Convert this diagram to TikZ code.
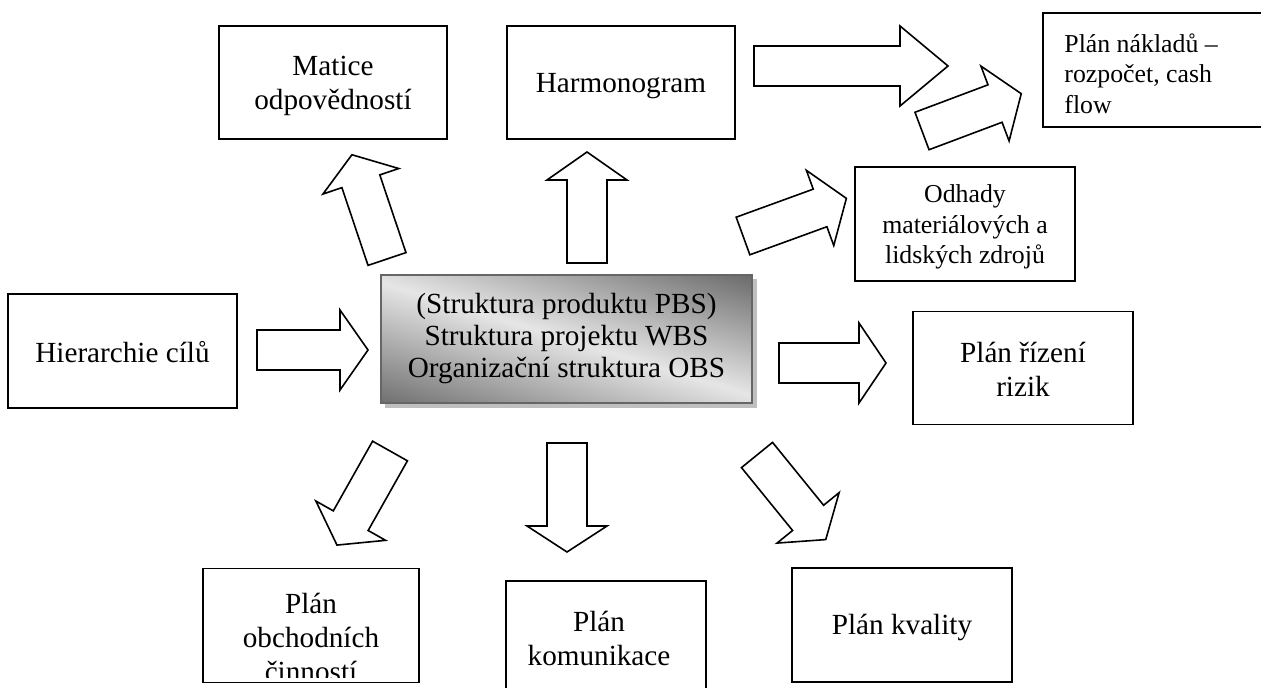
\documentclass[tikz,border=0pt]{standalone}
\usepackage{fontspec}
\setmainfont{Liberation Serif}
\newcommand\mainsize{\fontsize{14.6}{17}\selectfont}
\newcommand\smallsize{\fontsize{12.9}{15.3}\selectfont}
\tikzset{
  x=0.5pt, y=-0.5pt,
  box/.style={draw=black, line width=0.9pt, fill=white, inner sep=0pt},
  label text/.style={inner sep=0pt, align=center, font=\mainsize},
  blockarrow/.style={draw=black, line width=0.8pt, fill=white, line join=miter},
  hubshadow/.style={fill=black!25, draw=none},
  hubshade/.style={top color=black!60, bottom color=black!58, middle color=black!10},
  hub/.style={draw=black!60, line width=0.8pt, inner sep=0pt, align=center,
    font=\fontsize{14.6}{16}\selectfont},
}
% hollow block arrow: tail centre, direction in degrees, total length, head length
\newcommand\bigarrow[4]{%
  \begin{scope}[shift={#1}, rotate=#2]
    \draw[blockarrow] (0,-20) -- ({#3-#4},-20) -- ({#3-#4},-40) -- (#3,0)
      -- ({#3-#4},40) -- ({#3-#4},20) -- (0,20) -- cycle;
  \end{scope}}
\begin{document}
\begin{tikzpicture}
\useasboundingbox (0,0) rectangle (1261,688);
\clip (0,0) rectangle (1261,688);

% central structure box: drop shadow, diagonal grey gradient, frame and text
\fill[hubshadow] (385,279) rectangle (757,408);
\begin{scope}
  \clip (381,275) rectangle (752,403);
  \shade[hubshade, transform canvas={rotate around={-17:(566.5,339)}}]
    (296.5,219) rectangle (836.5,459);
\end{scope}
\node[hub, minimum width=185.5pt, minimum height=64pt] (wbs) at (566.5,339)
  {(Struktura produktu PBS)\\Struktura projektu WBS\\Organizační struktura OBS};

% surrounding plans
\node[box, minimum width=114pt, minimum height=56.5pt] (matice) at (333,82.5) {};
\node[label text] (maticetext) at (333,86) {Matice\\odpovědností};

\node[box, minimum width=114pt, minimum height=56.5pt] (harmonogram) at (621,82.5) {};
\node[label text] (harmonogramtext) at (621,86.5) {Harmonogram};

\node[box, minimum width=124pt, minimum height=57pt] (naklady) at (1167,70) {};
\node[label text, align=left, anchor=north west, font=\smallsize] (nakladytext) at (1064,33)
  {Plán nákladů –\\rozpočet, cash\\flow};

\node[box, minimum width=110pt, minimum height=57pt] (odhady) at (965,224) {};
\node[label text, font=\smallsize] (odhadytext) at (965,227)
  {Odhady\\materiálových a\\lidských zdrojů};

\node[box, minimum width=114.5pt, minimum height=57pt] (cile) at (122.5,351) {};
\node[label text] (ciletext) at (122.5,352) {Hierarchie cílů};

\node[box, minimum width=110pt, minimum height=56.5pt] (rizika) at (1023,368) {};
\node[label text] (rizikatext) at (1023,369) {Plán řízení\\rizik};

\node[box, minimum width=110pt, minimum height=57pt] (kvalita) at (902,625) {};
\node[label text] (kvalitatext) at (902,627) {Plán kvality};

\node[box, minimum width=108pt, minimum height=57pt] (obchod) at (311,625.5) {};
\begin{scope}
  \clip ([shift={(1,1)}]obchod.north west) rectangle ([shift={(-1,-6)}]obchod.south east);
  \node[label text] (obchodtext) at (311,637) {Plán\\obchodních\\činností};
\end{scope}

\node[box, minimum width=100pt, minimum height=60pt] (komunikace) at (606,641) {};
\node[label text] (komunikacetext) at (599,638) {Plán\\komunikace};

% hollow block arrows leading out of the structure box
\coordinate (a-cile) at (257,350);
\coordinate (a-harm) at (587,263);
\coordinate (a-nakl) at (754,66);
\coordinate (a-odh) at (743,236);
\coordinate (a-odhnakl) at (922,131);
\coordinate (a-mat) at (387,259);
\coordinate (a-riz) at (779,363);
\coordinate (a-kom) at (567,443);
\coordinate (a-obch) at (390,451);
\coordinate (a-kval) at (757,455);
\bigarrow{(a-cile)}{0}{111}{28}
\bigarrow{(a-harm)}{90}{111}{28}
\bigarrow{(a-nakl)}{0}{194}{48}
\bigarrow{(a-odh)}{20}{110}{28}
\bigarrow{(a-odhnakl)}{20.6}{106}{28}
\bigarrow{(a-mat)}{108.6}{110}{28}
\bigarrow{(a-riz)}{0}{107}{27}
\bigarrow{(a-kom)}{-90}{109}{26}
\bigarrow{(a-obch)}{240.6}{108}{28}
\bigarrow{(a-kval)}{-50.9}{109}{28}
\end{tikzpicture}
\end{document}
